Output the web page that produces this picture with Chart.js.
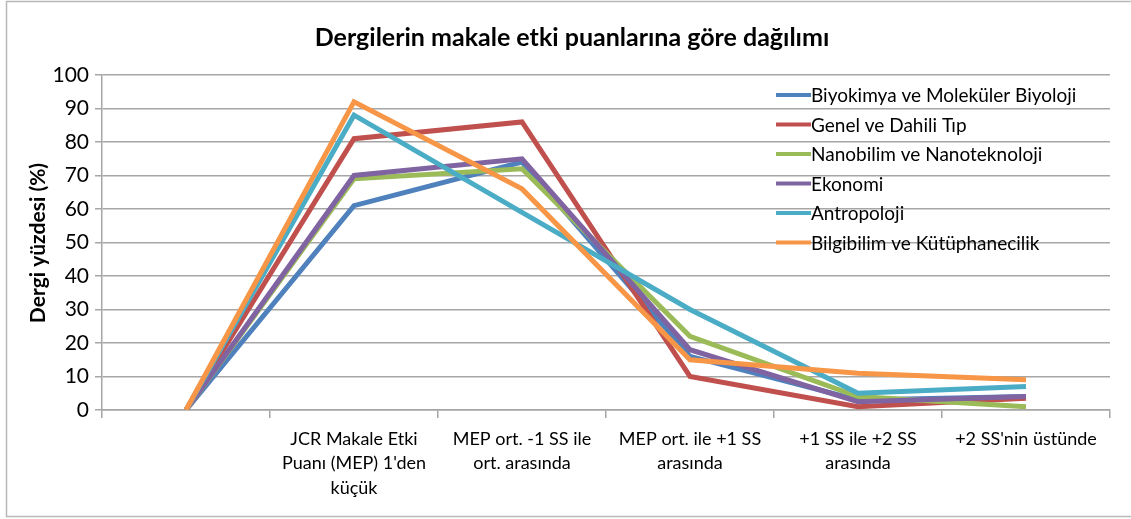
<!DOCTYPE html>
<html>
<head>
<meta charset="utf-8">
<script src="https://cdn.jsdelivr.net/npm/chart.js@4/dist/chart.umd.min.js"></script>
<style>
  html, body { margin: 0; padding: 0; background: #fff; }
  #wrap { width: 1131px; height: 519px; position: relative; }
</style>
</head>
<body>
<div id="wrap"><canvas id="chart" width="1131" height="519"></canvas></div>
<script>
const chartTitle = 'Dergilerin makale etki puanlarına göre dağılımı';
const yTitle = 'Dergi yüzdesi (%)';

const categories = [
    '',
    ['JCR Makale Etki', "Puanı (MEP) 1'den", 'küçük'],
    ['MEP ort. -1 SS ile', 'ort. arasında'],
    ['MEP ort. ile +1 SS', 'arasında'],
    ['+1 SS ile +2 SS', 'arasında'],
    ["+2 SS'nin üstünde"]
];

const seriesNames = [
    'Biyokimya ve Moleküler Biyoloji',
    'Genel ve Dahili Tıp',
    'Nanobilim ve Nanoteknoloji',
    'Ekonomi',
    'Antropoloji',
    'Bilgibilim ve Kütüphanecilik'
];

const biyokimya = [0, 61, 74, 16, 3, 4];
const genelTip = [0, 81, 86, 10, 1, 3.5];
const nanobilim = [0, 69, 72, 22, 4, 1];
const ekonomi = [0, 70, 75, 18, 2.5, 4];
const antropoloji = [0, 88, 59, 30, 5, 7];
const bilgibilim = [0, 92, 66, 15, 11, 9];

const yTicks = [0, 10, 20, 30, 40, 50, 60, 70, 80, 90, 100];

const seriesValues = [biyokimya, genelTip, nanobilim, ekonomi, antropoloji, bilgibilim];
const colors = ['#4F81BD', '#C0504D', '#9BBB59', '#8064A2', '#4BACC6', '#F79646'];

const FONT = 'Lato, "Open Sans", sans-serif';

const extras = {
    id: 'extras',
    beforeDraw(chart) {
        const c = chart.ctx;
        c.save();
        c.strokeStyle = '#b8b8b8';
        c.lineWidth = 1.5;
        c.strokeRect(6.5, 1.5, 1140, 515);
        c.restore();
    },
    afterDraw(chart) {
        const c = chart.ctx;
        c.save();
        // title
        c.fillStyle = '#000';
        c.font = 'bold 25px ' + FONT;
        c.textAlign = 'center';
        c.textBaseline = 'middle';
        c.fillText(chartTitle, 572, 38);
        // y axis title
        c.save();
        c.translate(38, 243);
        c.rotate(-Math.PI / 2);
        c.font = 'bold 21px ' + FONT;
        c.fillText(yTitle, 0, 0);
        c.restore();
        // legend
        c.font = '19px ' + FONT;
        c.textAlign = 'left';
        chart.data.datasets.forEach((ds, i) => {
            const y = 95 + i * 29.5;
            c.strokeStyle = ds.borderColor;
            c.lineWidth = 4;
            c.beginPath();
            c.moveTo(776, y);
            c.lineTo(811, y);
            c.stroke();
            c.fillStyle = '#000';
            c.fillText(ds.label, 811, y + 1);
        });
        c.restore();
    }
};

new Chart(document.getElementById('chart'), {
    type: 'line',
    data: {
        labels: categories,
        datasets: seriesNames.map((name, i) => ({
            label: name,
            data: seriesValues[i],
            borderColor: colors[i],
            backgroundColor: colors[i],
            borderWidth: 5,
            pointRadius: 0,
            tension: 0,
            order: seriesNames.length - i
        }))
    },
    options: {
        responsive: false,
        animation: false,
        layout: { padding: { top: 75, left: 10, right: 21, bottom: 0 } },
        plugins: {
            legend: { display: false },
            title: { display: false },
            tooltip: { enabled: false }
        },
        scales: {
            x: {
                offset: true,
                grid: {
                    offset: true,
                    drawOnChartArea: false,
                    drawTicks: true,
                    tickLength: 8,
                    color: '#a6a6a6',
                    lineWidth: 1.5
                },
                border: { display: true, color: '#a6a6a6', width: 1.5 },
                ticks: {
                    color: '#000',
                    font: { family: FONT, size: 18, lineHeight: 1.35 },
                    padding: 9,
                    maxRotation: 0,
                    autoSkip: false
                },
                afterFit(scale) { scale.height = 109; }
            },
            y: {
                min: 0,
                max: 100,
                afterBuildTicks(scale) { scale.ticks = yTicks.map(v => ({ value: v })); },
                grid: {
                    color: '#a6a6a6',
                    lineWidth: 1.5,
                    tickLength: 7
                },
                border: { display: true, color: '#a6a6a6', width: 1.5 },
                ticks: {
                    color: '#000',
                    font: { family: FONT, size: 21 },
                    padding: 6
                },
                afterFit(scale) { scale.width = 92; }
            }
        }
    },
    plugins: [extras]
});
</script>
</body>
</html>
